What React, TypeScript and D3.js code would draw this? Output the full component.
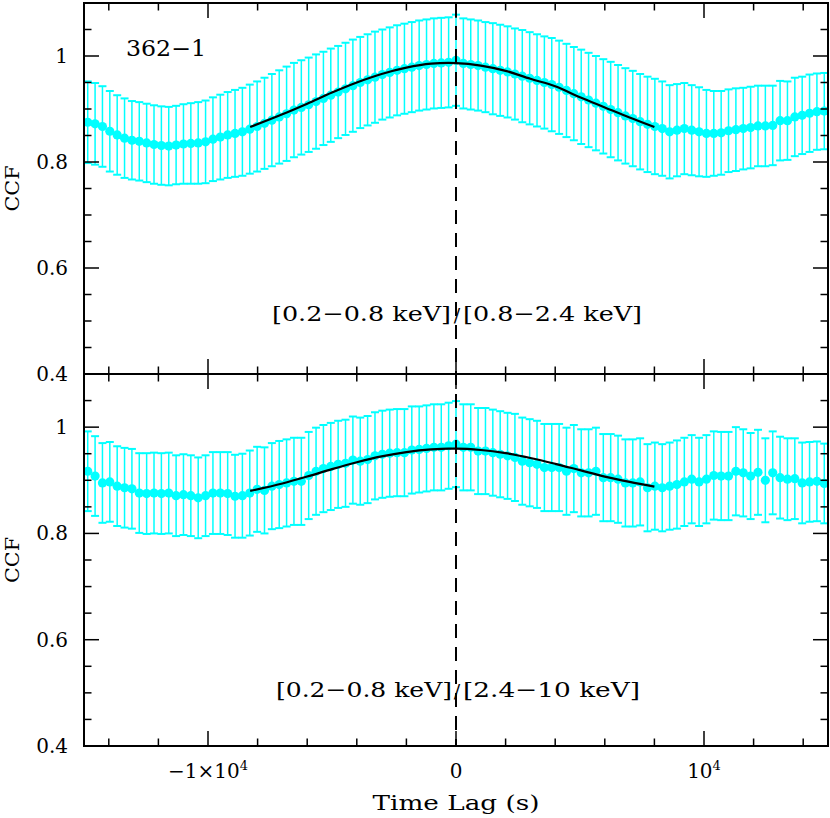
import React from 'react';
import * as d3 from 'd3';

// ---- data -------------------------------------------------------------
const LAGS = [
  -14850, -14553, -14256, -13959, -13662, -13365, -13068, -12771, -12474, -12177,
  -11880, -11583, -11286, -10989, -10692, -10395, -10098, -9801, -9504, -9207,
  -8910, -8613, -8316, -8019, -7722, -7425, -7128, -6831, -6534, -6237,
  -5940, -5643, -5346, -5049, -4752, -4455, -4158, -3861, -3564, -3267,
  -2970, -2673, -2376, -2079, -1782, -1485, -1188, -891, -594, -297, 0,
  297, 594, 891, 1188, 1485, 1782, 2079, 2376, 2673, 2970,
  3267, 3564, 3861, 4158, 4455, 4752, 5049, 5346, 5643, 5940,
  6237, 6534, 6831, 7128, 7425, 7722, 8019, 8316, 8613, 8910,
  9207, 9504, 9801, 10098, 10395, 10692, 10989, 11286, 11583, 11880,
  12177, 12474, 12771, 13068, 13365, 13662, 13959, 14256, 14553, 14850,
];

// [0.2-0.8 keV]/[0.8-2.4 keV]
const CCF_SOFT_MED = [
  0.875, 0.872, 0.867, 0.858, 0.851, 0.845, 0.841, 0.839, 0.836, 0.833,
  0.831, 0.830, 0.832, 0.834, 0.835, 0.836, 0.838, 0.843, 0.847, 0.851,
  0.854, 0.857, 0.862, 0.867, 0.873, 0.879, 0.885, 0.891, 0.898, 0.903,
  0.908, 0.914, 0.920, 0.926, 0.932, 0.938, 0.944, 0.950, 0.955, 0.960,
  0.965, 0.969, 0.973, 0.976, 0.979, 0.982, 0.984, 0.986, 0.987, 0.988, 0.992,
  0.986, 0.984, 0.982, 0.979, 0.976, 0.973, 0.970, 0.966, 0.962, 0.958,
  0.954, 0.950, 0.946, 0.941, 0.935, 0.929, 0.923, 0.917, 0.911, 0.905,
  0.899, 0.893, 0.887, 0.882, 0.876, 0.871, 0.867, 0.863, 0.857, 0.860,
  0.863, 0.860, 0.857, 0.854, 0.854, 0.855, 0.859, 0.861, 0.863, 0.865,
  0.868, 0.868, 0.869, 0.878, 0.878, 0.885, 0.888, 0.892, 0.895, 0.896,
];
const ERR_SOFT_MED = [
  0.077, 0.077, 0.076, 0.076, 0.075, 0.075, 0.074, 0.074, 0.074, 0.074,
  0.074, 0.074, 0.074, 0.075, 0.076, 0.077, 0.078, 0.079, 0.080, 0.081,
  0.082, 0.083, 0.084, 0.085, 0.086, 0.087, 0.088, 0.089, 0.089, 0.089,
  0.089, 0.089, 0.088, 0.088, 0.087, 0.087, 0.087, 0.086, 0.086, 0.086,
  0.085, 0.085, 0.085, 0.085, 0.085, 0.085, 0.085, 0.085, 0.085, 0.085, 0.086,
  0.085, 0.085, 0.085, 0.085, 0.086, 0.086, 0.086, 0.086, 0.087, 0.087,
  0.087, 0.087, 0.088, 0.088, 0.088, 0.088, 0.089, 0.089, 0.089, 0.089,
  0.090, 0.090, 0.090, 0.090, 0.090, 0.090, 0.090, 0.089, 0.088, 0.087,
  0.086, 0.085, 0.084, 0.082, 0.080, 0.079, 0.078, 0.078, 0.077, 0.077,
  0.076, 0.076, 0.075, 0.075, 0.074, 0.074, 0.073, 0.073, 0.072, 0.072,
];

// [0.2-0.8 keV]/[2.4-10 keV]
const CCF_SOFT_HARD = [
  0.917, 0.908, 0.895, 0.897, 0.889, 0.886, 0.884, 0.876, 0.875, 0.876,
  0.875, 0.876, 0.871, 0.873, 0.871, 0.867, 0.871, 0.876, 0.876, 0.875,
  0.870, 0.871, 0.876, 0.883, 0.881, 0.889, 0.892, 0.895, 0.898, 0.898,
  0.909, 0.917, 0.922, 0.926, 0.930, 0.932, 0.938, 0.936, 0.939, 0.946,
  0.949, 0.951, 0.952, 0.952, 0.957, 0.958, 0.960, 0.962, 0.962, 0.965, 0.968,
  0.962, 0.962, 0.955, 0.955, 0.952, 0.949, 0.946, 0.943, 0.936, 0.933,
  0.930, 0.924, 0.924, 0.924, 0.917, 0.922, 0.914, 0.914, 0.917, 0.905,
  0.905, 0.902, 0.895, 0.895, 0.897, 0.886, 0.889, 0.886, 0.889, 0.892,
  0.897, 0.902, 0.897, 0.902, 0.909, 0.908, 0.908, 0.917, 0.914, 0.908,
  0.915, 0.900, 0.914, 0.905, 0.902, 0.903, 0.895, 0.897, 0.898, 0.894,
];
const ERR_SOFT_HARD = [
  0.075, 0.075, 0.075, 0.075, 0.075, 0.075, 0.075, 0.075, 0.076, 0.076,
  0.076, 0.076, 0.076, 0.076, 0.076, 0.076, 0.076, 0.077, 0.077, 0.078,
  0.078, 0.079, 0.080, 0.080, 0.081, 0.081, 0.082, 0.082, 0.082, 0.082,
  0.082, 0.082, 0.082, 0.082, 0.082, 0.082, 0.082, 0.082, 0.082, 0.082,
  0.082, 0.082, 0.082, 0.082, 0.082, 0.081, 0.081, 0.081, 0.081, 0.081, 0.081,
  0.081, 0.081, 0.081, 0.081, 0.081, 0.081, 0.081, 0.082, 0.082, 0.082,
  0.082, 0.082, 0.082, 0.082, 0.082, 0.082, 0.082, 0.082, 0.082, 0.082,
  0.082, 0.082, 0.082, 0.082, 0.082, 0.082, 0.082, 0.082, 0.082, 0.083,
  0.083, 0.083, 0.083, 0.083, 0.083, 0.083, 0.083, 0.083, 0.082, 0.081,
  0.080, 0.079, 0.078, 0.077, 0.077, 0.076, 0.076, 0.075, 0.075, 0.075,
];

// fitted model curves
const FIT_LAGS = [-8300, -7000, -6000, -5000, -4000, -3000, -2000, -1000, -300, 0, 1000, 2000, 3000, 4000, 5000, 6000, 7000, 8000];
const FIT_SOFT_MED = [0.866, 0.890, 0.910, 0.931, 0.950, 0.966, 0.978, 0.9855, 0.987, 0.9867, 0.982, 0.972, 0.957, 0.943, 0.922, 0.903, 0.884, 0.866];
const FIT_SOFT_HARD = [0.880, 0.894, 0.907, 0.921, 0.934, 0.945, 0.953, 0.958, 0.9595, 0.9595, 0.957, 0.951, 0.942, 0.931, 0.919, 0.907, 0.897, 0.888];

const Y_TICK_LABELS = [0.4, 0.6, 0.8, 1];
const X_MAJOR_TICKS = [-10000, 0, 10000];
const X_TICK_LABELS = [
  { v: -10000, base: '−1×10', sup: '4' },
  { v: 0, base: '0', sup: '' },
  { v: 10000, base: '10', sup: '4' },
];

// ---- layout -----------------------------------------------------------
const W = 830;
const H = 818;
const LEFT = 84;
const RIGHT = 828;
const FONT = '"DejaVu Serif", "Liberation Serif", serif';
const CYAN = '#00ffff';

const x = d3.scaleLinear().domain([-15000, 15000]).range([LEFT, RIGHT]);
const xMinor = d3.range(-14000, 14001, 2000);
const yMinor = d3.range(0, 15).map((i) => +(0.4 + i * 0.05).toFixed(2)).filter((v) => v > 0.4 && v < 1.1);

type PanelProps = {
  top: number;
  bottom: number;
  vals: number[];
  errs: number[];
  fit: number[];
  label: [string, string];
  labelBaseline: number;
  leftLen: number;
  rightLen: number;
  leftX: number;
  rightX: number;
};

function Panel(p: PanelProps) {
  const y = d3.scaleLinear().domain([0.4, 1.1]).range([p.bottom, p.top]);
  const line = d3
    .line<number>()
    .x((_, i) => x(FIT_LAGS[i]))
    .y((d) => y(d))
    .curve(d3.curveMonotoneX);
  const cap = 4;
  return (
    <g>
      {/* error bars */}
      <g stroke={CYAN} fill="none">
        {p.vals.map((v, i) => {
          const cx = x(LAGS[i]);
          const y1 = y(v + p.errs[i]);
          const y2 = y(v - p.errs[i]);
          return (
            <g key={i}>
              <line x1={cx} x2={cx} y1={y1} y2={y2} strokeWidth={1.5} />
              <line x1={cx - cap} x2={cx + cap} y1={y1} y2={y1} strokeWidth={2} />
              <line x1={cx - cap} x2={cx + cap} y1={y2} y2={y2} strokeWidth={2} />
            </g>
          );
        })}
      </g>
      {/* points */}
      <g fill={CYAN}>
        {p.vals.map((v, i) => (
          <circle key={i} cx={x(LAGS[i])} cy={y(v)} r={4.6} />
        ))}
      </g>
      {/* fit */}
      <path d={line(p.fit) || ''} fill="none" stroke="#000" strokeWidth={2.2} />
      {/* ticks */}
      <g stroke="#000" strokeWidth={1.5}>
        {xMinor.map((t) => {
          const len = X_MAJOR_TICKS.includes(t) ? 15 : 7.5;
          return (
            <g key={'xt' + t}>
              <line x1={x(t)} x2={x(t)} y1={p.top} y2={p.top + len} />
              <line x1={x(t)} x2={x(t)} y1={p.bottom} y2={p.bottom - len} />
            </g>
          );
        })}
        {yMinor.map((v) => {
          const r = Math.round(v * 100) % 20;
          const len = r === 0 ? 15 : 7.5;
          return (
            <g key={'yt' + v}>
              <line x1={LEFT} x2={LEFT + len} y1={y(v)} y2={y(v)} />
              <line x1={RIGHT} x2={RIGHT - len} y1={y(v)} y2={y(v)} />
            </g>
          );
        })}
      </g>
      {/* y tick labels */}
      <g fontFamily={FONT} fontSize={20} textAnchor="end" fill="#000">
        {Y_TICK_LABELS.map((v) => (
          <text key={'yl' + v} x={68} y={y(v) + 7}>
            {v === 1 ? '1' : v.toFixed(1)}
          </text>
        ))}
      </g>
      {/* y axis title */}
      <text
        fontFamily={FONT}
        fontSize={19}
        textAnchor="middle"
        textLength={46}
        lengthAdjust="spacingAndGlyphs"
        transform={`translate(19,${(p.top + p.bottom) / 2}) rotate(-90)`}
      >
        CCF
      </text>
      {/* band label */}
      <g fontFamily={FONT} fontSize={21} fill="#000">
        <text x={p.leftX} y={p.labelBaseline} textLength={p.leftLen} lengthAdjust="spacingAndGlyphs">
          {p.label[0]}
        </text>
        <text x={457} y={p.labelBaseline + 1} textAnchor="middle" fontSize={19}>
          /
        </text>
        <text x={p.rightX} y={p.labelBaseline} textLength={p.rightLen} lengthAdjust="spacingAndGlyphs">
          {p.label[1]}
        </text>
      </g>
    </g>
  );
}

export default function App() {
  const top = { top: 3, bottom: 374 };
  const bot = { top: 374, bottom: 746 };
  return (
    <svg
      width={W}
      height={H}
      viewBox={`0 0 ${W} ${H}`}
      style={{ position: 'absolute', left: 0, top: 0, background: '#fff' }}
    >
      <rect x={0} y={0} width={W} height={H} fill="#fff" />
      <Panel
        {...top}
        vals={CCF_SOFT_MED}
        errs={ERR_SOFT_MED}
        fit={FIT_SOFT_MED}
        label={['[0.2−0.8 keV]', '[0.8−2.4 keV]']}
        labelBaseline={321}
        leftX={272}
        leftLen={179}
        rightX={463}
        rightLen={179}
      />
      <Panel
        {...bot}
        vals={CCF_SOFT_HARD}
        errs={ERR_SOFT_HARD}
        fit={FIT_SOFT_HARD}
        label={['[0.2−0.8 keV]', '[2.4−10 keV]']}
        labelBaseline={697}
        leftX={276}
        leftLen={176}
        rightX={463}
        rightLen={177}
      />
      {/* zero-lag dashed line */}
      <line x1={x(0)} x2={x(0)} y1={3} y2={746} stroke="#000" strokeWidth={2} strokeDasharray="14 9" />
      {/* frames */}
      <rect x={LEFT} y={3} width={RIGHT - LEFT} height={743} fill="none" stroke="#000" strokeWidth={2} />
      <line x1={LEFT} x2={RIGHT} y1={374} y2={374} stroke="#000" strokeWidth={2} />
      {/* object name */}
      <text x={126} y={56} fontFamily={FONT} fontSize={22} textLength={80} lengthAdjust="spacingAndGlyphs">
        362−1
      </text>
      {/* x tick labels */}
      <g fontFamily={FONT} fontSize={20} textAnchor="middle">
        {X_TICK_LABELS.map((t) => (
          <text key={t.v} x={x(t.v)} y={778}>
            {t.base}
            {t.sup ? (
              <tspan fontSize={13} dy={-8}>
                {t.sup}
              </tspan>
            ) : null}
          </text>
        ))}
      </g>
      <text x={456} y={810} fontFamily={FONT} fontSize={20} textAnchor="middle" textLength={167} lengthAdjust="spacingAndGlyphs">
        Time Lag (s)
      </text>
    </svg>
  );
}
